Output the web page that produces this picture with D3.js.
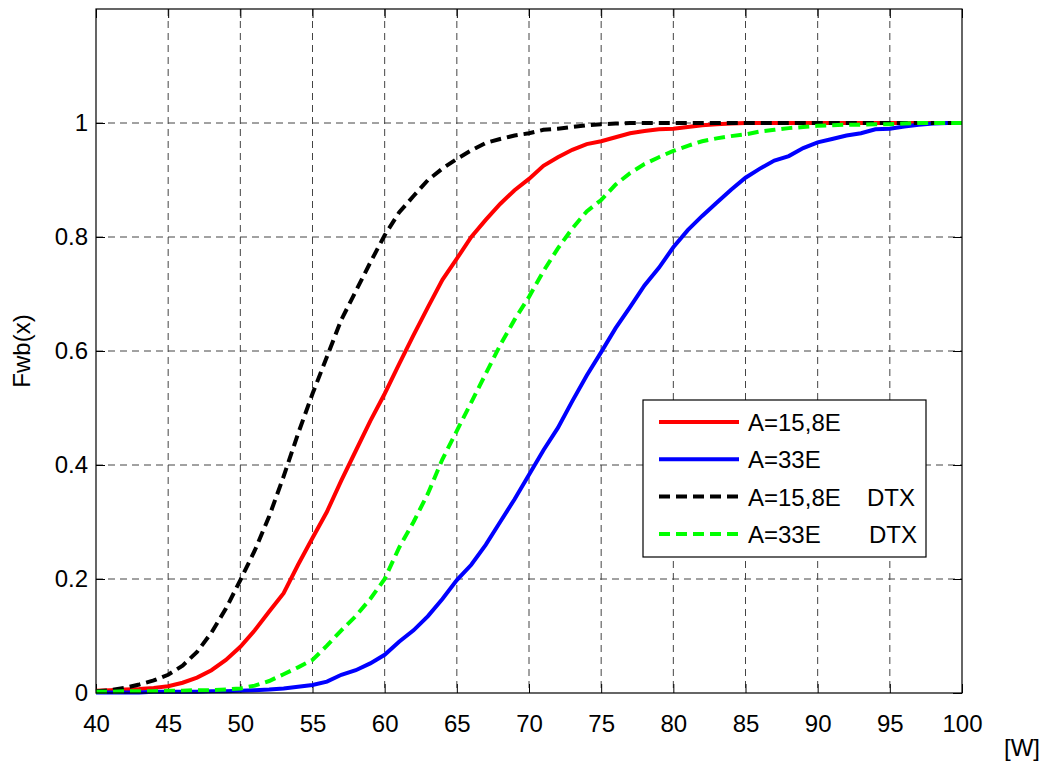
<!DOCTYPE html>
<html>
<head>
<meta charset="utf-8">
<script src="https://cdn.jsdelivr.net/npm/d3@7"></script>
<style>
  body { margin: 0; background: #fff; }
  text { font-family: "Liberation Sans", Arial, sans-serif; fill: #000; }
</style>
</head>
<body>
<div id="chart"></div>
<script>
//Data
var xValues = [40,41,42,43,44,45,46,47,48,49,50,51,52,53,54,55,56,57,58,59,60,61,62,63,64,65,66,67,68,69,70,
               71,72,73,74,75,76,77,78,79,80,81,82,83,84,85,86,87,88,89,90,91,92,93,94,95,96,97,98,99,100];
var red = [0.004,0.005,0.006,0.007,0.009,0.012,0.018,0.027,0.040,0.058,0.081,0.110,0.143,0.175,0.225,0.272,0.318,0.373,0.425,0.477,0.525,
           0.577,0.628,0.677,0.725,0.762,0.800,0.830,0.858,0.882,0.902,0.925,0.940,0.953,0.963,0.968,0.975,0.982,0.986,0.989,0.990,
           0.993,0.996,0.998,0.999,1,1,1,1,1,1,1,1,1,1,1,1,1,1,1,1];
var blue = [0.001,0.001,0.001,0.001,0.002,0.002,0.002,0.002,0.003,0.003,0.004,0.005,0.006,0.008,0.011,0.014,0.020,0.032,0.040,0.052,0.067,
            0.090,0.110,0.135,0.165,0.198,0.225,0.260,0.300,0.340,0.383,0.426,0.465,0.512,0.557,0.598,0.640,0.677,0.715,0.746,0.782,
            0.812,0.837,0.860,0.883,0.904,0.920,0.934,0.942,0.956,0.966,0.972,0.978,0.982,0.989,0.990,0.994,0.997,0.999,1,1];
var black = [0.003,0.005,0.009,0.015,0.022,0.032,0.048,0.072,0.106,0.148,0.198,0.250,0.310,0.380,0.455,0.525,0.590,0.655,0.705,0.755,0.803,
             0.843,0.872,0.900,0.920,0.937,0.952,0.965,0.972,0.978,0.982,0.988,0.990,0.993,0.996,0.998,0.999,1,1,1,1,
             1,1,1,1,1,1,1,1,1,1,1,1,1,1,1,1,1,1,1,1];
var green = [0.002,0.002,0.003,0.003,0.003,0.004,0.004,0.005,0.005,0.006,0.008,0.013,0.021,0.033,0.045,0.058,0.083,0.110,0.135,0.165,0.200,
             0.255,0.300,0.350,0.410,0.460,0.510,0.560,0.610,0.655,0.695,0.740,0.780,0.815,0.845,0.865,0.892,0.912,0.928,0.940,0.951,
             0.960,0.968,0.973,0.977,0.980,0.985,0.988,0.991,0.993,0.995,0.996,0.997,0.997,0.998,0.998,0.999,1,1,1,1];
var seriesNames = ["A=15,8E", "A=33E", "A=15,8E", "A=33E"];
var seriesSuffix = ["", "", "DTX", "DTX"];
var xTicks = [40,45,50,55,60,65,70,75,80,85,90,95,100];
var yTicks = [0,0.2,0.4,0.6,0.8,1];

//Sizes
var width = 1048, height = 765;
var margin = {left: 96, right: 86, top: 9, bottom: 72};
var plotW = width - margin.left - margin.right;
var plotH = height - margin.top - margin.bottom;
var fontSize = 24;

var series = [
  {values: red,   color: "#ff0000", dash: null},
  {values: blue,  color: "#0000ff", dash: null},
  {values: black, color: "#000000", dash: "11,6"},
  {values: green, color: "#00ff00", dash: "11,6"}
];

var x = d3.scaleLinear().domain([40, 100]).range([0, plotW]);
var y = d3.scaleLinear().domain([0, 1.2]).range([plotH, 0]);

var svg = d3.select("#chart").append("svg")
  .attr("width", width).attr("height", height);
var g = svg.append("g")
  .attr("transform", "translate(" + margin.left + "," + margin.top + ")");

//Grid
g.append("g").selectAll("line").data(xTicks.slice(1, -1)).enter().append("line")
  .attr("x1", d => x(d)).attr("x2", d => x(d))
  .attr("y1", 0).attr("y2", plotH)
  .attr("stroke", "#444").attr("stroke-dasharray", "7,5");
g.append("g").selectAll("line").data(yTicks.slice(1)).enter().append("line")
  .attr("x1", 0).attr("x2", plotW)
  .attr("y1", d => y(d)).attr("y2", d => y(d))
  .attr("stroke", "#444").attr("stroke-dasharray", "7,5");

//Axes with inward ticks, MATLAB style
var tickLen = 9;
g.append("g").attr("transform", "translate(0," + plotH + ")")
  .call(d3.axisBottom(x).tickValues(xTicks).tickSize(-tickLen).tickPadding(22))
  .call(a => a.select(".domain").remove())
  .call(a => a.selectAll("text").attr("font-size", fontSize).attr("font-family", "Liberation Sans, Arial"));
g.append("g")
  .call(d3.axisTop(x).tickValues(xTicks).tickSize(-tickLen).tickFormat(""))
  .call(a => a.select(".domain").remove());
g.append("g")
  .call(d3.axisLeft(y).tickValues(yTicks).tickSize(-tickLen).tickPadding(8).tickFormat(d3.format("~g")))
  .call(a => a.select(".domain").remove())
  .call(a => a.selectAll("text").attr("font-size", fontSize).attr("font-family", "Liberation Sans, Arial"));
g.append("g").attr("transform", "translate(" + plotW + ",0)")
  .call(d3.axisRight(y).tickValues(yTicks).tickSize(-tickLen).tickFormat(""))
  .call(a => a.select(".domain").remove());

//Curves
var line = d3.line().x((d, i) => x(xValues[i])).y(d => y(d));
g.append("g").selectAll("path").data(series).enter().append("path")
  .attr("d", d => line(d.values))
  .attr("fill", "none")
  .attr("stroke", d => d.color)
  .attr("stroke-width", 4)
  .attr("stroke-dasharray", d => d.dash);

//Box
g.append("rect").attr("width", plotW).attr("height", plotH)
  .attr("fill", "none").attr("stroke", "#000").attr("stroke-width", 1.2);

//Axis labels
svg.append("text")
  .attr("transform", "translate(30," + (margin.top + y(0.6)) + ") rotate(-90)")
  .attr("text-anchor", "middle").attr("font-size", fontSize).text("Fwb(x)");
svg.append("text")
  .attr("x", 1040).attr("y", 756)
  .attr("text-anchor", "end").attr("font-size", fontSize).text("[W]");

//Legend
var legend = svg.append("g").attr("transform", "translate(643,400)");
legend.append("rect").attr("width", 283).attr("height", 157)
  .attr("fill", "#fff").attr("stroke", "#000").attr("stroke-width", 1.2);
var rows = legend.selectAll("g.row").data(series).enter().append("g")
  .attr("class", "row")
  .attr("transform", (d, i) => "translate(0," + (22 + i * 37.3) + ")");
rows.append("line")
  .attr("x1", 16).attr("x2", 96)
  .attr("stroke", d => d.color).attr("stroke-width", 4)
  .attr("stroke-dasharray", d => d.dash);
rows.append("text")
  .attr("x", 105).attr("y", 9).attr("font-size", fontSize)
  .text((d, i) => seriesNames[i]);
rows.append("text")
  .attr("x", (d, i) => i == 2 ? 224 : 226).attr("y", 9).attr("font-size", fontSize)
  .text((d, i) => seriesSuffix[i]);
</script>
</body>
</html>
